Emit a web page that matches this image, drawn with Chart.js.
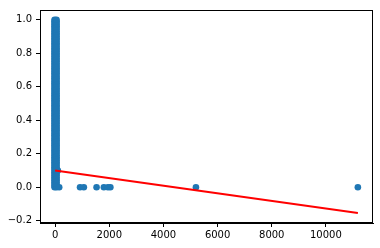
<!DOCTYPE html>
<html>
<head>
<meta charset="utf-8">
<script src="https://cdn.jsdelivr.net/npm/chart.js@4.4.0/dist/chart.umd.min.js"></script>
<style>
  html, body { margin: 0; padding: 0; background: #fff; }
  #wrap { width: 380px; height: 248px; }
</style>
</head>
<body>
<div id="wrap"><canvas id="scatterChart"></canvas></div>
<script>
// dense column of points near x = 0 (reads as a solid bar from 0 to 1)
var columnY = [
    0.00, 0.01, 0.02, 0.03, 0.04, 0.05, 0.06, 0.07, 0.08, 0.09,
    0.10, 0.11, 0.12, 0.13, 0.14, 0.15, 0.16, 0.17, 0.18, 0.19,
    0.20, 0.21, 0.22, 0.23, 0.24, 0.25, 0.26, 0.27, 0.28, 0.29,
    0.30, 0.31, 0.32, 0.33, 0.34, 0.35, 0.36, 0.37, 0.38, 0.39,
    0.40, 0.41, 0.42, 0.43, 0.44, 0.45, 0.46, 0.47, 0.48, 0.49,
    0.50, 0.51, 0.52, 0.53, 0.54, 0.55, 0.56, 0.57, 0.58, 0.59,
    0.60, 0.61, 0.62, 0.63, 0.64, 0.65, 0.66, 0.67, 0.68, 0.69,
    0.70, 0.71, 0.72, 0.73, 0.74, 0.75, 0.76, 0.77, 0.78, 0.79,
    0.80, 0.81, 0.82, 0.83, 0.84, 0.85, 0.86, 0.87, 0.88, 0.89,
    0.90, 0.91, 0.92, 0.93, 0.94, 0.95, 0.96, 0.97, 0.98, 0.99, 1.00
];
var columnX = [-20, 50];

// scattered points away from the column
var spreadX = [100, 150, 920, 1060, 1530, 1800, 1950, 2040, 5200, 11180];
var spreadY = [0.1, 0, 0, 0, 0, 0, 0, 0, 0, 0];

// fitted line end points
var fitX = [0, 11180];
var fitY = [0.1, -0.154];

// tick labels
var xTicks = [0, 2000, 4000, 6000, 8000, 10000];
var yTicks = [-0.2, 0.0, 0.2, 0.4, 0.6, 0.8, 1.0];

var points = [];
columnX.forEach(function (x) {
    columnY.forEach(function (y) { points.push({ x: x, y: y }); });
});
spreadX.forEach(function (x, i) { points.push({ x: x, y: spreadY[i] }); });

var fitLine = fitX.map(function (x, i) { return { x: x, y: fitY[i] }; });

// draws the top and right spines too
var boxPlugin = {
    id: 'box',
    afterDraw: function (chart) {
        var a = chart.chartArea;
        var c = chart.ctx;
        c.save();
        c.strokeStyle = '#000';
        c.lineWidth = 1;
        c.strokeRect(Math.round(a.left) + 0.5, Math.round(a.top) + 0.5,
            Math.round(a.right - a.left) - 1, Math.round(a.bottom - a.top) - 1);
        c.restore();
    }
};

var tickFont = { family: 'DejaVu Sans', size: 10 };

var ctx = document.getElementById('scatterChart').getContext('2d');
new Chart(ctx, {
    type: 'scatter',
    data: {
        datasets: [
            {
                label: 'fit',
                type: 'line',
                data: fitLine,
                borderColor: '#ff0000',
                borderWidth: 2,
                pointRadius: 0,
                fill: false,
                order: 0
            },
            {
                label: 'data',
                data: points,
                backgroundColor: '#1f77b4',
                borderWidth: 0,
                pointRadius: 3.3,
                order: 1
            }
        ]
    },
    options: {
        responsive: true,
        maintainAspectRatio: false,
        animation: false,
        layout: { padding: { top: 6, right: 7, left: 0, bottom: 0 } },
        plugins: {
            legend: { display: false },
            tooltip: { enabled: false }
        },
        scales: {
            x: {
                type: 'linear',
                min: -559,
                max: 11739,
                afterBuildTicks: function (scale) {
                    scale.ticks = xTicks.map(function (v) { return { value: v }; });
                },
                afterFit: function (scale) { scale.height = 25; },
                grid: {
                    drawOnChartArea: false,
                    tickLength: 4,
                    tickColor: '#000'
                },
                border: { color: '#000' },
                ticks: {
                    color: '#000',
                    font: tickFont,
                    padding: 2,
                    maxRotation: 0,
                    callback: function (v) { return String(v); }
                }
            },
            y: {
                type: 'linear',
                min: -0.213,
                max: 1.058,
                afterBuildTicks: function (scale) {
                    scale.ticks = yTicks.map(function (v) { return { value: v }; });
                },
                afterFit: function (scale) { scale.width = 40; },
                grid: {
                    drawOnChartArea: false,
                    tickLength: 4,
                    tickColor: '#000'
                },
                border: { color: '#000' },
                ticks: {
                    color: '#000',
                    font: tickFont,
                    padding: 4,
                    callback: function (v) { return v.toFixed(1).replace('-', '\u2212'); }
                }
            }
        }
    },
    plugins: [boxPlugin]
});
</script>
</body>
</html>
